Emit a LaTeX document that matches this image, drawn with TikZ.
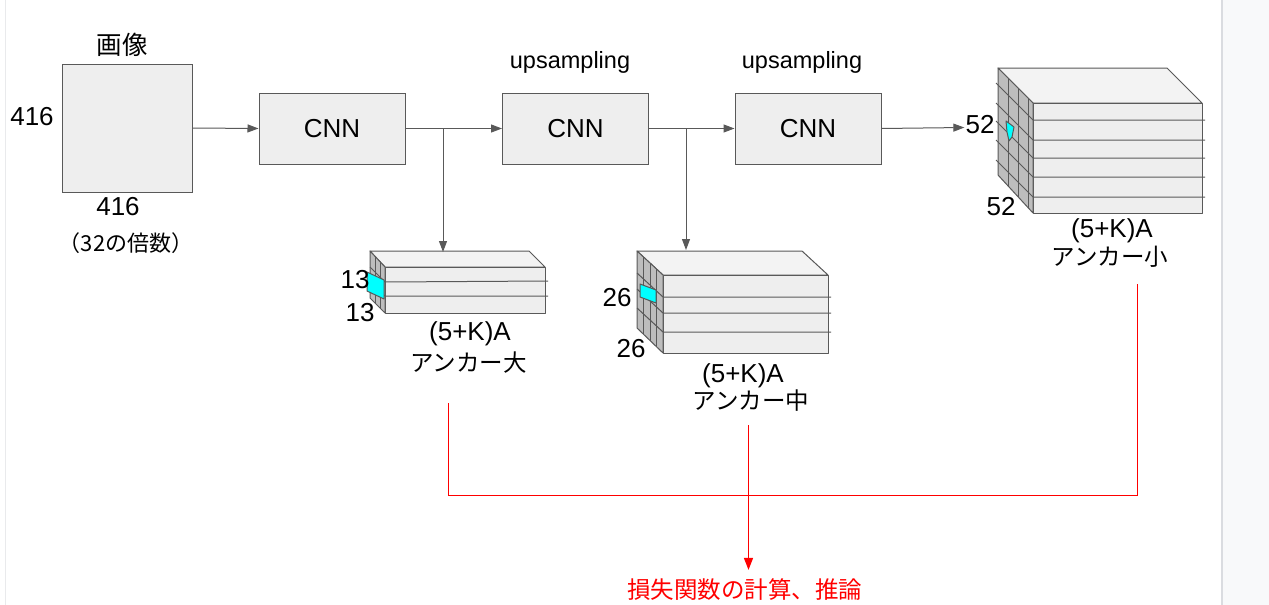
\documentclass[tikz,border=0pt]{standalone}
\usepackage{fontspec}
\setmainfont{Liberation Sans}
\newfontfamily\jpfont{Noto Sans CJK JP}
\usepackage{tikz}
\usetikzlibrary{arrows.meta}
\definecolor{Line}{HTML}{595959}
\definecolor{BoxFill}{HTML}{EEEEEE}
\definecolor{TopFill}{HTML}{F3F3F3}
\definecolor{SideFill}{HTML}{BDBDBD}
\definecolor{Anchor}{HTML}{00FFFF}
\definecolor{Loss}{HTML}{FF0000}
\definecolor{Panel}{HTML}{F8F9FA}
\definecolor{PanelEdge}{HTML}{DADCE0}

\begin{document}
\begin{tikzpicture}[x=1pt,y=-1pt,
  flow/.style={-{Triangle[length=11pt,width=8pt]},line width=1pt,color=Line},
  lossline/.style={line width=1.4pt,color=Loss},
  lossflow/.style={-{Triangle[length=12pt,width=9pt]},line width=1.4pt,color=Loss},
  cubeline/.style={draw=Line,line width=1pt,line join=round},
  layer/.style={rectangle,minimum width=146pt,minimum height=71pt,fill=BoxFill,
                draw=Line,line width=1pt,font=\fontsize{26}{30}\selectfont},
  num/.style={inner sep=1pt,font=\fontsize{26}{30}\selectfont},
  small/.style={inner sep=1pt,font=\fontsize{23.5}{28}\selectfont},
  jp/.style={inner sep=1pt,font=\jpfont\fontsize{23.5}{28}\selectfont}
]
  \useasboundingbox (0,0) rectangle (1269,605);
  \fill[white] (0,0) rectangle (1269,605);
  \fill[Panel] (1222,0) rectangle (1269,605);
  \draw[PanelEdge,line width=1.5pt] (1222,0) -- (1222,605);
  \draw[PanelEdge!60,line width=1pt] (5,0) -- (5,605);

  % input image and backbone
  \node[rectangle,minimum width=130pt,minimum height=128pt,fill=BoxFill,draw=Line,
        line width=1pt] (img) at (127,128) {};
  \node[jp,font=\jpfont\fontsize{25.5}{30}\selectfont] (imgname) at (122,45) {画像};
  \node[num] (imgh) at (32,117) {416};
  \node[num] (imgw) at (118,207) {416};
  \node[jp,font=\jpfont\fontsize{22}{26}\selectfont] (imgnote) at (126,243) {（32の倍数）};

  \node[layer] (cnn1) at (332,128.5) {CNN};
  \node[layer] (cnn2) at (575.5,128.5) {CNN};
  \node[layer] (cnn3) at (808,128.5) {CNN};
  \node[small] (up1) at (570,62) {upsampling};
  \node[small] (up2) at (802,62) {upsampling};

  % large anchors 13x13
  \filldraw[cubeline,fill=TopFill] (370,251) -- (529,251) -- (545,267) -- (385,267) -- cycle;
  \filldraw[cubeline,fill=BoxFill] (385,267) rectangle (545,313);
  \filldraw[cubeline,fill=SideFill] (370,251) -- (385,267) -- (385,313) -- (370,298) -- cycle;
  \draw[cubeline] (375,256) -- (375,303) (380,262) -- (380,308);
  \draw[cubeline] (370,267) -- (385,282) -- (548,281) (370,281) -- (385,296) -- (548,296);
  \filldraw[cubeline,fill=Anchor] (367,272) -- (384,280) -- (384,299) -- (367,291) -- cycle;
  \coordinate (bigtop) at (443,252);
  \node[num] (big1) at (355,280) {13};
  \node[num] (big2) at (360,313) {13};
  \node[num] (bigsize) at (470,334) {(5+K)A};
  \node[jp] (bigname) at (468.5,363) {アンカー大};

  % medium anchors 26x26
  \filldraw[cubeline,fill=TopFill] (637,251) -- (802,251) -- (828,275) -- (663,275) -- cycle;
  \filldraw[cubeline,fill=BoxFill] (663,275) rectangle (828,353);
  \filldraw[cubeline,fill=SideFill] (637,251) -- (663,275) -- (663,353) -- (637,328) -- cycle;
  \draw[cubeline] (643.5,257) -- (643.5,334) (650,263) -- (650,340.5) (656.5,269) -- (656.5,346.5);
  \draw[cubeline] (637,273) -- (663,297) -- (831,297) (637,289) -- (663,313) -- (831,313)
                  (637,308) -- (663,332) -- (831,332);
  \filldraw[cubeline,fill=Anchor] (640,284) -- (656,290) -- (656,303) -- (640,297) -- cycle;
  \coordinate (midtop) at (686,250);
  \node[num] (mid1) at (617,298) {26};
  \node[num] (mid2) at (631,349) {26};
  \node[num] (midsize) at (743,376) {(5+K)A};
  \node[jp] (midname) at (751,401) {アンカー中};

  % small anchors 52x52
  \filldraw[cubeline,fill=TopFill] (998,68) -- (1167,68) -- (1202,103) -- (1033,103) -- cycle;
  \filldraw[cubeline,fill=BoxFill] (1033,103) rectangle (1202,213);
  \filldraw[cubeline,fill=SideFill] (998,68) -- (1033,103) -- (1033,213) -- (998,175) -- cycle;
  \draw[cubeline] (1008,78) -- (1008,186) (1018,88) -- (1018,197) (1028,98) -- (1028,208);
  \draw[cubeline] (996,83) -- (1033,120) -- (1205,120) (996,103) -- (1033,140) -- (1205,140)
                  (996,121) -- (1033,158) -- (1205,158) (996,140) -- (1033,177) -- (1205,177)
                  (996,160) -- (1033,197) -- (1205,197);
  \filldraw[cubeline,fill=Anchor] (1006,121) -- (1014,127) -- (1012,137) -- (1009,141) -- (1007,132) -- cycle;
  \node[num] (small1) at (980,125) {52};
  \node[num] (small2) at (1001,207) {52};
  \node[num] (smallsize) at (1112,231) {(5+K)A};
  \node[jp] (smallname) at (1110,257) {アンカー小};

  \draw[flow] (img.east) -- (cnn1.west);
  \draw[flow] (cnn1.east) -- (cnn2.west);
  \draw[flow] (cnn2.east) -- (cnn3.west);
  \draw[flow] (cnn3.east) -- ([yshift=-2.5pt]small1.west);
  \draw[flow] (bigtop |- cnn1.east) -- (bigtop);
  \draw[flow] (midtop |- cnn2.east) -- (midtop);

  % loss
  \node[jp,text=Loss] (loss) at (744.5,590) {損失関数の計算、推論};
  \coordinate (bigout) at (448.5,403);
  \coordinate (midout) at (748.5,425);
  \coordinate (smallout) at (1137.5,284);
  \coordinate (merge) at (748.5,495.5);
  \draw[lossline] (bigout) |- (merge) -| (smallout);
  \draw[lossflow,shorten >=8pt] (midout) -- (midout |- loss.north);

\end{tikzpicture}
\end{document}
